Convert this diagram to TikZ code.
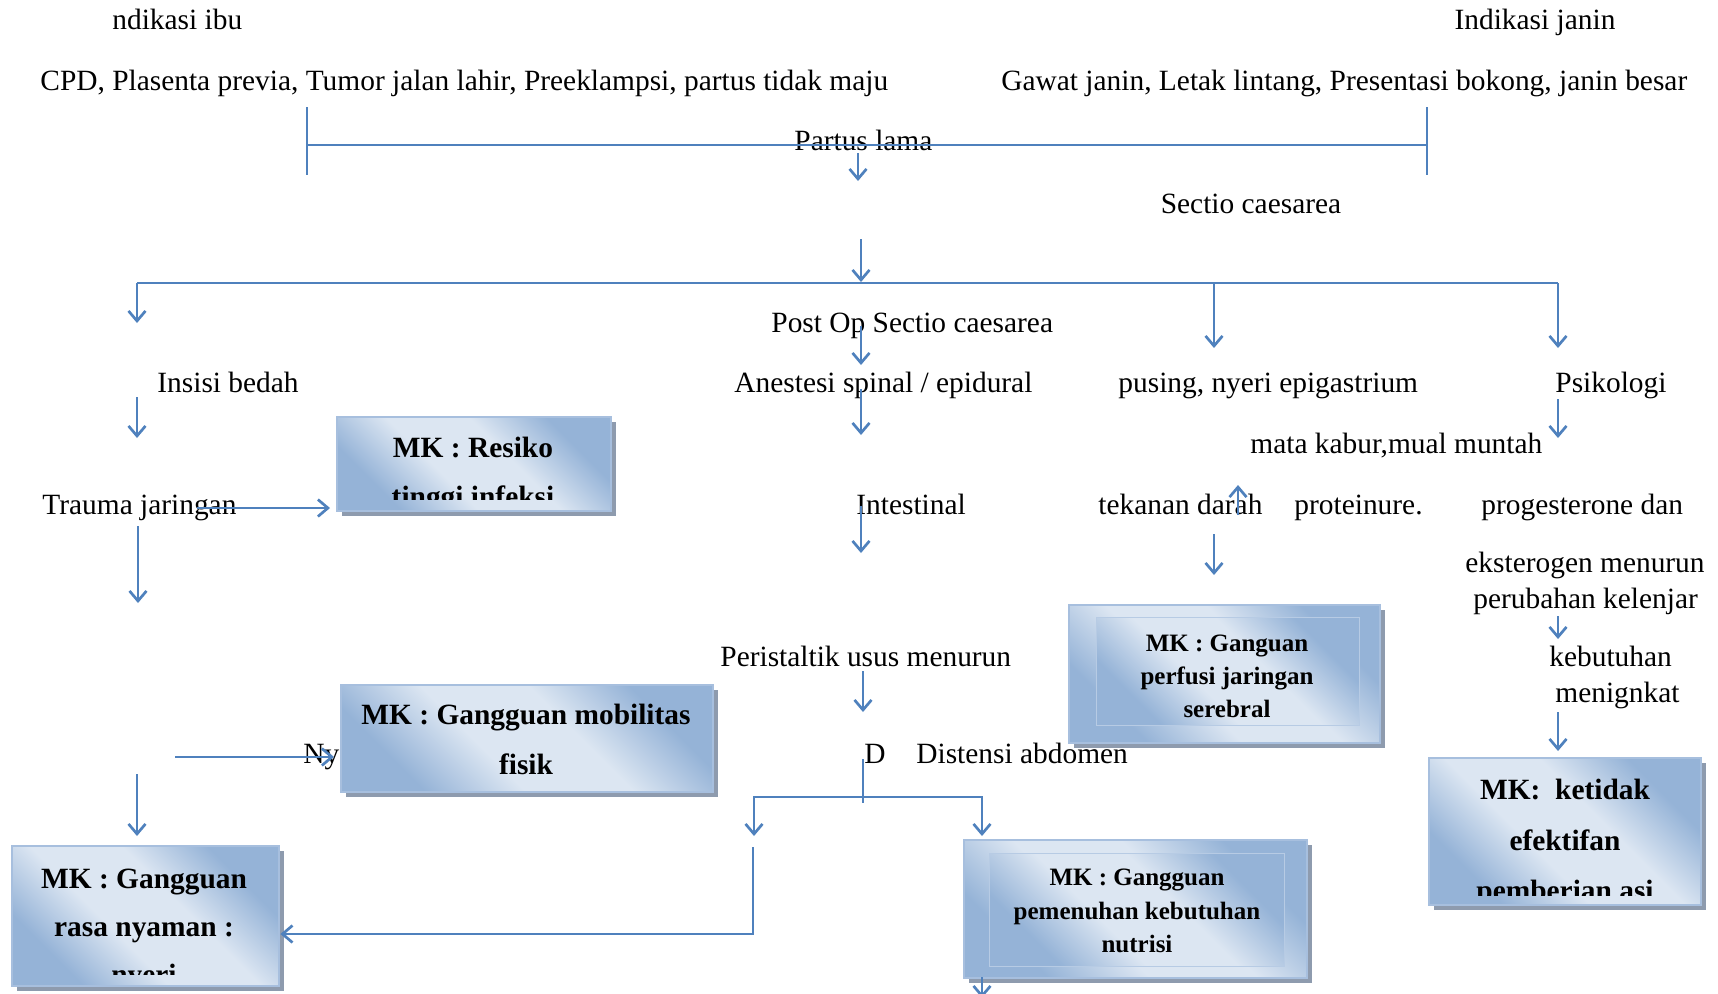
\documentclass[tikz,border=0pt]{standalone}
\usepackage{fontspec}
\setmainfont{Liberation Serif}
\usetikzlibrary{arrows.meta}
\definecolor{lineblue}{HTML}{4F81BD}
\definecolor{mklight}{HTML}{DCE6F2}
\definecolor{mkdark}{HTML}{95B3D7}
\definecolor{mkborder}{HTML}{A7BFDE}
\definecolor{mkshadow}{HTML}{8E9BAE}
\pgfdeclarehorizontalshading{mkshade}{100bp}{color(0bp)=(mkdark); color(27bp)=(mkdark); color(42bp)=(mklight); color(58bp)=(mklight); color(73bp)=(mkdark); color(100bp)=(mkdark)}
\newcommand\reftxt{\fontsize{14.7}{17}\selectfont}
\newcommand\smalltxt{\fontsize{12.5}{15}\selectfont}
\tikzset{
  lbl/.style={font=\reftxt, inner sep=0pt, anchor=mid west},
  mktxt/.style={font=\reftxt\bfseries, inner sep=0pt, anchor=mid},
  mksmall/.style={font=\smalltxt\bfseries, inner sep=0pt, anchor=mid},
  con/.style={draw=lineblue, line width=1.35pt},
  arw/.style={con, -{Straight Barb[length=5pt,width=8.5pt]}},
  mkbox/.style={rectangle, inner sep=0pt, anchor=north west, draw=mkborder, line width=1.2pt, shade, shading=mkshade, shading angle=45,
    preaction={fill=mkshadow, draw=none, transform canvas={shift={(2.2pt,-2.2pt)}}}},
  mkinner/.style={rectangle, inner sep=0pt, anchor=north west, draw=mkborder!70!mklight, line width=0.5pt, shade, shading=mkshade, shading angle=45},
}
\begin{document}
\begin{tikzpicture}[x=0.5pt,y=-0.5pt]
\useasboundingbox (0,0) rectangle (1718,993);

% ---- texts ----
\node[lbl] (ibu) at (112,24.5) {ndikasi ibu};
\node[lbl,anchor=mid] (janin) at (1535,24.5) {Indikasi janin};
\node[lbl] (cpd) at (40,85.5) {CPD, Plasenta previa, Tumor jalan lahir, Preeklampsi, partus tidak maju};
\node[lbl] (gawat) at (1001,85.5) {Gawat janin, Letak lintang, Presentasi bokong, janin besar};
\node[lbl] (partus) at (794,145.5) {Partus lama};
\node[lbl,anchor=mid] (sectio) at (1251,208.5) {Sectio caesarea};
\node[lbl] (postop) at (771,327.5) {Post Op Sectio caesarea};
\node[lbl] (insisi) at (157,387.5) {Insisi bedah};
\node[lbl] (anestesi) at (734,387.5) {Anestesi spinal / epidural};
\node[lbl] (pusing) at (1118,387.5) {pusing, nyeri epigastrium};
\node[lbl] (psiko) at (1555,387.5) {Psikologi};
\node[lbl] (mata) at (1250,448.5) {mata kabur,mual muntah};
\node[lbl] (trauma) at (42,509.5) {Trauma jaringan};
\node[lbl] (intest) at (856,509.5) {Intestinal};
\node[lbl] (tekanan) at (1098,509.5) {tekanan darah};
\node[lbl] (protein) at (1294,509.5) {proteinure.};
\node[lbl] (proges) at (1481,509.5) {progesterone dan};
\node[lbl] (ekst) at (1465,567.5) {eksterogen menurun};
\node[lbl] (kelenjar) at (1473,603.5) {perubahan kelenjar};
\node[lbl] (kebut) at (1549,661.5) {kebutuhan};
\node[lbl] (menig) at (1555,697.5) {menignkat};
\node[lbl] (peris) at (720,661.5) {Peristaltik usus menurun};
\node[lbl] (ny) at (303,758.5) {Ny};
\node[lbl] (dd) at (864,758.5) {D};
\node[lbl] (disten) at (916,758.5) {Distensi abdomen};

% ---- boxes ----
\node[mkbox, minimum width=137pt, minimum height=47pt] (resiko) at (336,416) {};
\begin{scope}
  \clip (340,420) rectangle (606,499);
  \node[mktxt] (resiko1) at (473,452.5) {MK : Resiko};
  \node[mktxt] (resiko2) at (473,502) {tinggi infeksi};
\end{scope}

\node[mkbox, minimum width=186pt, minimum height=53.5pt] (mobil) at (340,684) {};
\node[mktxt] (mobil1) at (526,719.5) {MK : Gangguan mobilitas};
\node[mktxt] (mobil2) at (526,769.5) {fisik};

\node[mkbox, minimum width=133.5pt, minimum height=70pt] (rasa) at (11,845) {};
\begin{scope}
  \clip (15,849) rectangle (274,974);
  \node[mktxt] (rasa1) at (144,883.5) {MK : Gangguan};
  \node[mktxt] (rasa2) at (144,931.5) {rasa nyaman :};
  \node[mktxt] (rasa3) at (144,980) {nyeri};
\end{scope}

\node[mkbox, minimum width=136pt, minimum height=73.5pt] (ketidak) at (1428,757) {};
\begin{scope}
  \clip (1432,761) rectangle (1696,895);
  \node[mktxt] (ketidak1) at (1565,794.5) {MK:~~ketidak};
  \node[mktxt] (ketidak2) at (1565,845.5) {efektifan};
  \node[mktxt] (ketidak3) at (1565,896) {pemberian asi};
\end{scope}

\node[mkbox, minimum width=155.5pt, minimum height=69pt] (perfusi) at (1068,604) {};
\node[mkinner, minimum width=131.5pt, minimum height=54pt] (perfusiin) at (1096,617) {};
\node[mksmall] (perfusi1) at (1227,646.5) {MK : Ganguan};
\node[mksmall] (perfusi2) at (1227,679.5) {perfusi jaringan};
\node[mksmall] (perfusi3) at (1227,712.5) {serebral};

\node[mkbox, minimum width=171.5pt, minimum height=69pt] (nutrisi) at (963,839) {};
\node[mkinner, minimum width=147.5pt, minimum height=56.5pt] (nutrisiin) at (989,853) {};
\node[mksmall] (nutrisi1) at (1137,880.5) {MK : Gangguan};
\node[mksmall] (nutrisi2) at (1137,914.5) {pemenuhan kebutuhan};
\node[mksmall] (nutrisi3) at (1137,947.5) {nutrisi};

% ---- connectors ----
\draw[con] (307,107) coordinate (bl1) -- (307,175) coordinate (bl2);
\draw[con] (307,145) coordinate (bh1) -- (1427,145) coordinate (bh2);
\draw[con] (1427,107) coordinate (br1) -- (1427,175) coordinate (br2);
\draw[arw] (858,153) coordinate (pa1) -- (858,181) coordinate (pa2);
\draw[arw] (861,239) coordinate (sa1) -- (861,282) coordinate (sa2);
\draw[con] (137,283) coordinate (h1) -- (1558,283) coordinate (h2);
\draw[arw] (137,283) -- (137,323) coordinate (insisiin);
\draw[arw] (1214,283) -- (1214,348) coordinate (pusingin);
\draw[arw] (1558,283) -- (1558,348) coordinate (psikoin);
\draw[arw] (861,326) coordinate (po1) -- (861,365) coordinate (po2);
\draw[arw] (861,389) coordinate (an1) -- (861,435) coordinate (an2);
\draw[arw] (137,397) coordinate (in1) -- (137,438) coordinate (in2);
\draw[arw] (1558,399) coordinate (ps1) -- (1558,438) coordinate (ps2);
\draw[arw] (197,508) coordinate (tr1) -- (330,508) coordinate (tr2);
\draw[arw] (861,506) coordinate (it1) -- (861,553) coordinate (it2);
\draw[arw] (1238,515) coordinate (up1) -- (1238,485) coordinate (up2);
\draw[arw] (1214,534) coordinate (tk1) -- (1214,575) coordinate (tk2);
\draw[arw] (138,526) coordinate (td1) -- (138,603) coordinate (td2);
\draw[arw] (1558,616) coordinate (kl1) -- (1558,639) coordinate (kl2);
\draw[arw] (863,671) coordinate (pr1) -- (863,712) coordinate (pr2);
\draw[arw] (1558,712) coordinate (mn1) -- (1558,751) coordinate (mn2);
\draw[arw] (175,757) coordinate (mb1) -- (334,757) coordinate (mb2);
\draw[arw] (137,774) coordinate (ld1) -- (137,836) coordinate (ld2);
\draw[con] (863,759) coordinate (d1) -- (863,803) coordinate (d2);
\draw[arw] (863,797) -| (754,836) coordinate (dl);
\draw[arw] (863,797) -| (982,836) coordinate (dr);
\draw[arw] (753,847) coordinate (rn1) |- (rasa.east |- 0,934);
\draw[arw] (982,977) coordinate (nb1) -- (982,998) coordinate (nb2);
\end{tikzpicture}
\end{document}
